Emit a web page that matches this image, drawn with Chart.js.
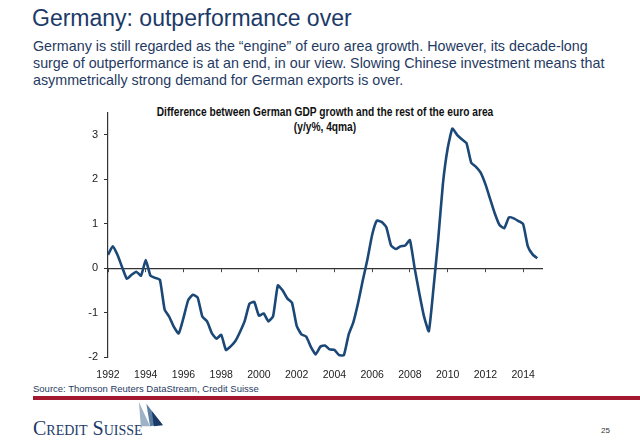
<!DOCTYPE html>
<html>
<head>
<meta charset="utf-8">
<script src="https://cdn.jsdelivr.net/npm/chart.js@4/dist/chart.umd.min.js"></script>
<style>
body { margin: 0; width: 640px; height: 442px; background: #fff; position: relative; overflow: hidden; font-family: "Liberation Sans", Arial, sans-serif; }
.title { position: absolute; left: 32px; top: 4px; font-size: 23px; line-height: 28px; color: #1c3a68; }
.sub { position: absolute; left: 33px; top: 38px; width: 607px; font-size: 14.3px; line-height: 17px; color: #1f3a62; white-space: nowrap; }
.ctitle { position: absolute; left: 125px; width: 400px; top: 105px; text-align: center; font-weight: bold; font-size: 12px; line-height: 15px; color: #111; transform: scaleX(0.85); transform-origin: 200px 0; }
#wrap { position: absolute; left: 50px; top: 100px; width: 510px; height: 280px; }
.source { position: absolute; left: 33px; top: 383px; font-size: 9.5px; color: #1f3a62; }
.redline { position: absolute; left: 33px; top: 396px; width: 607px; height: 4px; background: #a3172f; }
.logo { position: absolute; left: 33px; top: 417px; font-family: "Liberation Serif", "Times New Roman", serif; font-variant: small-caps; font-size: 20px; line-height: 22px; color: #1c3a68; }
.sails { position: absolute; left: 136px; top: 402px; }
.page { position: absolute; left: 601px; top: 426px; font-size: 8px; color: #333; }
</style>
</head>
<body>
<div class="title">Germany: outperformance over</div>
<div class="sub">Germany is still regarded as the “engine” of euro area growth. However, its decade-long<br>surge of outperformance is at an end, in our view. Slowing Chinese investment means that<br>asymmetrically strong demand for German exports is over.</div>
<div class="ctitle">Difference between German GDP growth and the rest of the euro area<br>(y/y%, 4qma)</div>
<div id="wrap"><canvas id="gdp"></canvas></div>
<div class="source">Source: Thomson Reuters DataStream, Credit Suisse</div>
<div class="redline"></div>
<div class="logo">Credit Suisse</div>
<svg class="sails" width="30" height="26" viewBox="0 0 30 28">
  <polygon points="2,0 14,26 4,26" fill="#9fb3c8"/>
  <polygon points="10,2 27,24 14,26" fill="#5a7ea3"/>
  <polygon points="16,10 28,25 18,26" fill="#1c3a68"/>
</svg>
<div class="page">25</div>

<script>
// quarterly, 1992Q1 - 2014Q4
var startYear = 1992;
var values = [
    0.30, 0.49, 0.30, 0.02,
    -0.24, -0.15, -0.08, -0.17,
    0.18, -0.17, -0.22, -0.26,
    -0.93, -1.10, -1.33, -1.47,
    -1.12, -0.72, -0.60, -0.66,
    -1.09, -1.20, -1.46, -1.59,
    -1.50, -1.84, -1.76, -1.64,
    -1.43, -1.18, -0.80, -0.76,
    -1.07, -1.02, -1.20, -1.08,
    -0.39, -0.50, -0.68, -0.78,
    -1.30, -1.49, -1.54, -1.77,
    -1.94, -1.77, -1.74, -1.83,
    -1.84, -1.96, -1.96, -1.50,
    -1.22, -0.79, -0.28, 0.20,
    0.75, 1.07, 1.04, 0.92,
    0.51, 0.43, 0.49, 0.51,
    0.63, 0.00, -0.57, -1.09,
    -1.42, -0.45, 0.65, 1.90,
    2.69, 3.14, 3.00, 2.90,
    2.81, 2.37, 2.28, 2.15,
    1.89, 1.56, 1.23, 0.97,
    0.90, 1.14, 1.12, 1.06,
    0.99, 0.49, 0.31, 0.22
];
var yearTicks = [1992, 1994, 1996, 1998, 2000, 2002, 2004, 2006, 2008, 2010, 2012, 2014];
var yTicks = [-2, -1, 0, 1, 2, 3];

var points = values.map(function(v, i) {
    return { x: startYear + i / 4, y: v };
});

function setYearTicks(scale) {
    scale.ticks = yearTicks.map(function(y) { return { value: y }; });
}

var ctx = document.getElementById('gdp').getContext('2d');
var myChart = new Chart(ctx, {
    type: 'line',
    data: {
        datasets: [{
            data: points,
            borderColor: '#1b4877',
            borderWidth: 2.6,
            pointRadius: 0,
            tension: 0.15,
            fill: false
        }]
    },
    options: {
        responsive: true,
        maintainAspectRatio: false,
        animation: false,
        layout: { padding: { top: 8, right: 18, left: 0, bottom: 0 } },
        plugins: { legend: { display: false }, tooltip: { enabled: false } },
        scales: {
            x: {
                type: 'linear',
                min: 1992,
                max: 2015,
                afterBuildTicks: setYearTicks,
                afterFit: function(scale) { scale.height = 23; },
                grid: { display: false },
                border: { display: false },
                ticks: {
                    padding: 4,
                    color: '#222',
                    font: { family: '"Liberation Sans", Arial, sans-serif', size: 10.5 },
                    callback: function(value) { return String(value); }
                }
            },
            x0: {
                type: 'linear',
                axis: 'x',
                position: { y: 0 },
                min: 1992,
                max: 2015,
                afterBuildTicks: setYearTicks,
                ticks: { display: false },
                grid: { drawOnChartArea: false, drawTicks: true, tickLength: 3, color: '#444' },
                border: { display: true, color: '#333', width: 1.2 }
            },
            y: {
                min: -2,
                max: 3.5,
                afterBuildTicks: function(scale) {
                    scale.ticks = yTicks.map(function(v) { return { value: v }; });
                },
                afterFit: function(scale) { scale.width = 58; },
                grid: { drawOnChartArea: false, tickLength: 4, color: '#333' },
                border: { display: true, color: '#333', width: 1.2 },
                ticks: {
                    padding: 6,
                    color: '#222',
                    font: { family: '"Liberation Sans", Arial, sans-serif', size: 11 }
                }
            }
        }
    }
});
</script>
</body>
</html>
